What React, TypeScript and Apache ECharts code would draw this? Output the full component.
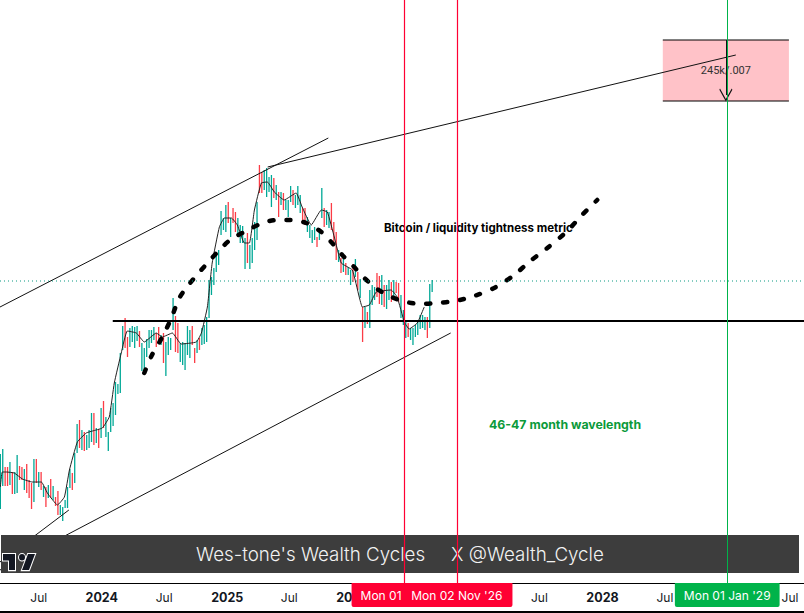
import React, { useEffect, useRef } from 'react';
import * as echarts from 'echarts';

echarts.graphic.registerShape(
  'tvlogo',
  echarts.graphic.extendPath('M14 6H2v6h6v9h6V6Zm14 15h-7l6-15h7l-6 15Zm-7-9a3 3 0 1 0 0-6 3 3 0 0 0 0 6Z', {}) as any,
);

// weekly bars, one per week from firstWeek
const firstWeek = '2023-03-11';
const barHighs = [
  129, 134, 116, 116, 121, 111, 111, 128, 117, 116, 114, 119, 103, 100, 124, 124, 111, 111, 97, 96,
  98, 104, 97, 86, 92, 78, 76, 83, 96, 114, 110, 130, 159, 163, 153, 151, 148, 153, 170, 170,
  155, 154, 175, 182, 166, 151, 175, 180, 201, 199, 230, 257, 265, 246, 255, 257, 256, 257, 252, 240,
  235, 244, 253, 253, 256, 250, 256, 248, 250, 241, 246, 245, 285, 267, 260, 240, 241, 240, 257, 253,
  257, 235, 243, 245, 255, 258, 266, 303, 306, 315, 328, 333, 372, 365, 378, 381, 365, 375, 371, 365,
  358, 357, 345, 350, 338, 345, 361, 381, 418, 411, 413, 415, 406, 408, 405, 398, 391, 391, 390, 383,
  383, 397, 393, 388, 397, 388, 375, 375, 366, 358, 353, 356, 346, 355, 395, 375, 373, 371, 380, 361,
  351, 333, 325, 326, 320, 316, 313, 319, 324, 311, 304, 276, 276, 271, 293, 298, 296, 310, 307, 308,
  298, 298, 303, 301, 303, 301, 300, 288, 273, 262, 260, 255, 255, 258, 261, 268, 268, 266, 266, 299,
  303,
];
const barLows = [
  74, 97, 97, 97, 98, 89, 89, 90, 103, 103, 93, 90, 85, 74, 81, 100, 96, 93, 86, 76,
  85, 85, 83, 77, 68, 68, 62, 75, 75, 95, 93, 100, 130, 135, 133, 132, 133, 135, 141, 138,
  140, 135, 145, 155, 146, 132, 151, 157, 168, 189, 190, 233, 235, 226, 236, 241, 235, 242, 236, 212,
  212, 226, 235, 240, 243, 236, 243, 238, 220, 207, 228, 233, 253, 231, 230, 221, 218, 213, 228, 225,
  238, 220, 230, 233, 238, 239, 241, 265, 288, 298, 311, 318, 348, 353, 351, 360, 346, 360, 351, 346,
  340, 340, 314, 320, 314, 320, 333, 343, 390, 390, 393, 386, 391, 376, 385, 383, 366, 378, 373, 373,
  366, 381, 378, 375, 378, 370, 361, 358, 351, 345, 340, 343, 336, 343, 365, 356, 358, 355, 353, 338,
  323, 321, 310, 311, 308, 308, 298, 301, 306, 293, 285, 241, 255, 259, 255, 278, 283, 286, 279, 278,
  276, 274, 283, 281, 283, 290, 281, 265, 258, 245, 246, 243, 238, 246, 248, 254, 255, 253, 245, 255,
  291,
];
// 1 = teal, 0 = red
const barUp = [
  1, 1, 0, 0, 1, 0, 1, 1, 0, 0, 1, 0, 0, 0, 1, 0, 1, 0, 1, 0,
  1, 0, 1, 0, 0, 1, 1, 1, 1, 1, 0, 1, 1, 0, 1, 0, 1, 1, 1, 0,
  1, 0, 1, 0, 1, 1, 1, 1, 1, 1, 1, 1, 0, 0, 1, 1, 1, 1, 0, 1,
  1, 1, 1, 1, 1, 0, 0, 1, 0, 1, 1, 1, 1, 0, 0, 1, 1, 1, 1, 1,
  0, 0, 1, 0, 1, 1, 1, 1, 1, 1, 1, 1, 1, 1, 1, 0, 1, 0, 0, 1,
  1, 1, 1, 0, 1, 1, 1, 1, 0, 0, 1, 1, 1, 1, 0, 1, 0, 1, 0, 1,
  1, 1, 0, 1, 1, 1, 0, 0, 1, 1, 1, 1, 0, 1, 1, 0, 1, 1, 0, 0,
  0, 1, 0, 1, 0, 1, 1, 0, 1, 0, 1, 0, 1, 0, 1, 1, 1, 0, 0, 1,
  0, 1, 1, 0, 1, 0, 0, 1, 1, 1, 0, 1, 1, 1, 1, 1, 1, 1, 0, 1,
  1,
];

// thin moving average, read at its turning points (position in weeks from firstWeek)
const maWeeks = [
  0, 0.8, 2.5, 5.8, 9.2, 13.3, 17.1, 19.6, 23.8, 26.7, 28.8, 32.1, 35.8, 38.4, 42.5, 45.4, 47.5, 50.4, 52.9,
  56.7, 60, 65, 67.5, 71.7, 75.4, 81.7, 83.8, 86.3, 88.3, 91.3, 93.4, 96.3, 98.8, 101.7, 103.8, 105.9, 108.8,
  111.3, 114.2, 118.3, 123.3, 125.8, 129.6, 133.8, 136.3, 139.2, 142.1, 146.7, 149.6, 150.9, 153.8, 156.7,
  162.9, 165.4, 168.4, 170.4, 173.8, 176.7,
];
const maValues = [
  96, 111, 111, 110, 104, 101, 101, 90, 78, 86, 113, 141, 150, 152, 155, 166, 200, 230, 252,
  250, 241, 250, 246, 250, 239, 241, 250, 276, 320, 356, 365, 365, 358, 340, 340, 373, 400,
  401, 391, 383, 390, 376, 358, 373, 371, 346, 320, 313, 286, 276, 278, 291,
  293, 286, 261, 254, 260, 276,
];

// thick dashed cycle curve
const cycleWeeks = [
  60, 63, 67.5, 71.3, 74.6, 78.8, 83, 87.1, 91.7, 96.3, 102.5, 108.4, 115, 121.3, 127.5, 133.8, 138.3,
  142.5, 147.1, 151.7, 157.1, 163, 169.2, 175.4, 182.1, 189.6, 197.5, 205.8, 214.2, 220.4, 228, 235.9, 242.5, 248.8,
];
const cycleValues = [
  210, 227, 246, 265, 285, 299, 311, 322, 334, 344, 352, 359, 363, 363, 360, 351, 340,
  328, 317, 305, 294, 286, 281, 279, 280, 282, 287, 295, 308, 321, 335, 351, 368, 383,
];

const axisStart = '2023-03-10';
const axisEnd = '2029-08-11';

// hand drawn lines [date, value]
const channelUpper = [[axisStart, 276], ['2025-10-23', 445]];
const resistance = [['2025-04-29', 416], ['2029-01-24', 528]];
const channelLower = [[axisStart, 13], ['2026-10-15', 250]];
const shortTrend = [[axisStart, 21], ['2023-09-27', 73]];
const supportLine = [['2024-02-02', 262], [axisEnd, 262]];
const lastPrice = [[axisStart, 302], [axisEnd, 302]];

const targetBox = { from: '2028-06-25', to: '2029-06-28', top: 543, bottom: 482, label: '245k/.007' };
const arrowDate = '2028-12-26';
const arrowEnd = 488;

// the first label is mostly covered by the second box, only "Mon 01" shows
const cycleDates = [
  { date: '2026-06-01', label: 'Mon 01', color: '#ff0033', line: 1.2, padding: [0, 55, 0, 9] },
  { date: '2026-11-02', label: "Mon 02 Nov '26", color: '#ff0033', line: 1.2, padding: [0, 10, 0, 10] },
  { date: '2028-12-30', label: "Mon 01 Jan '29", color: '#00b34a', line: 1, padding: [0, 9, 0, 9] },
];

// ticks hidden behind the date boxes are left out
const tickDates = [
  '2023-07-01', '2024-01-01', '2024-07-01', '2025-01-01', '2025-07-01', '2026-01-01',
  '2027-07-01', '2028-01-01', '2028-07-01', '2029-07-01',
];

const toTime = (d: string) => new Date(d + 'T00:00:00').getTime();
const weekTime = (w: number) => toTime(firstWeek) + w * 7 * 86400000;

const TEAL = '#00a896';
const RED = '#fb3c46';
const FONT = 'Inter';

const drawLine = (points: any[][], width = 1, type: any = 'solid', color = '#111') => ({
  type: 'line',
  data: points.map((p) => [toTime(p[0]), p[1]]),
  symbol: 'none',
  silent: true,
  z: 3,
  lineStyle: { color, width, type },
});

const Chart: React.FC = () => {
  const chartRef = useRef<HTMLDivElement>(null);

  useEffect(() => {
    if (!chartRef.current) return;
    const myChart = echarts.init(chartRef.current, null, { renderer: 'svg' });

    const option = {
      animation: false,
      backgroundColor: '#fff',
      grid: { left: 0, right: 0, top: 0, bottom: 30 },
      xAxis: {
        // value axis in ms, so the tick labels can be listed by hand
        type: 'value',
        min: toTime(axisStart),
        max: toTime(axisEnd),
        axisLine: { show: true, lineStyle: { color: '#000', width: 1 } },
        axisTick: { show: false },
        splitLine: { show: false },
        axisLabel: {
          customValues: tickDates.map(toTime),
          hideOverlap: false,
          margin: 8,
          formatter: (v: number) => {
            const d = new Date(v);
            return d.getMonth() === 0 ? `{y|${d.getFullYear()}}` : '{m|Jul}';
          },
          rich: {
            y: { fontFamily: FONT, fontWeight: 700, fontSize: 12.5, color: '#131722' },
            m: { fontFamily: FONT, fontSize: 12, color: '#131722' },
          },
        },
      },
      yAxis: { type: 'value', min: 0, max: 583, show: false },
      graphic: [
        { type: 'rect', z: 4, silent: true, shape: { x: 1, y: 535, width: 798, height: 38 }, style: { fill: '#3d3d3d' } },
        { type: 'tvlogo', z: 5, silent: true, x: 1, y: 547.6, scaleX: 1, scaleY: 1.07, style: { fill: '#131722', stroke: '#fff', lineWidth: 2, strokeFirst: true } },
        { type: 'text', z: 5, silent: true, x: 196, y: 554, style: { text: "Wes-tone's Wealth Cycles", fill: '#f2f2f2', font: `300 18.75px ${FONT}`, textVerticalAlign: 'middle' } },
        { type: 'text', z: 5, silent: true, x: 451, y: 554, style: { text: 'X @Wealth_Cycle', fill: '#f2f2f2', font: `300 18.75px ${FONT}`, textVerticalAlign: 'middle' } },
        { type: 'text', z: 5, silent: true, x: 384, y: 228, style: { text: 'Bitcoin / liquidity tightness metric', fill: '#000', font: `700 11.5px ${FONT}`, textVerticalAlign: 'middle' } },
        { type: 'text', z: 5, silent: true, x: 489, y: 424, style: { text: '46-47 month wavelength', fill: '#0b9a3a', font: `700 12.3px ${FONT}`, textVerticalAlign: 'middle' } },
        { type: 'rect', z: 5, silent: true, shape: { x: 0, y: 611, width: 804, height: 2 }, style: { fill: '#000' } },
      ],
      series: [
        {
          type: 'custom',
          silent: true,
          z: 2,
          clip: true,
          encode: { x: 0, y: [1, 2] },
          data: barHighs.map((h, i) => [weekTime(i), h, barLows[i], barUp[i]]),
          renderItem: (_: any, api: any) => {
            const a = api.coord([api.value(0), api.value(1)]);
            const b = api.coord([api.value(0), api.value(2)]);
            return {
              type: 'line',
              shape: { x1: a[0], y1: a[1], x2: b[0], y2: b[1] },
              style: { stroke: api.value(3) ? TEAL : RED, lineWidth: 1.3 },
            };
          },
        },
        {
          type: 'line',
          data: maWeeks.map((w, i) => [weekTime(w), maValues[i]]),
          symbol: 'none',
          smooth: 0.12,
          silent: true,
          z: 3,
          lineStyle: { color: '#222', width: 1 },
        },
        {
          type: 'line',
          data: cycleWeeks.map((w, i) => [weekTime(w), cycleValues[i]]),
          symbol: 'none',
          smooth: 0.3,
          silent: true,
          z: 3,
          lineStyle: { color: '#000', width: 4.5, cap: 'round', type: [4, 13] },
        },
        drawLine(channelUpper),
        drawLine(resistance),
        drawLine(channelLower),
        drawLine(shortTrend),
        drawLine(supportLine, 2, 'solid', '#000'),
        drawLine(lastPrice, 1, [1, 3], '#089981'),
        {
          // target box, drawn under the trend lines
          type: 'line',
          data: [],
          silent: true,
          z: 1,
          markArea: {
            silent: true,
            itemStyle: { color: '#ffc2c8' },
            label: { show: true, position: 'inside', color: '#333', fontFamily: 'Roboto', fontSize: 11 },
            data: [[
              { name: targetBox.label, coord: [toTime(targetBox.from), targetBox.top] },
              { coord: [toTime(targetBox.to), targetBox.bottom] },
            ]],
          },
        },
        drawLine([[targetBox.from, targetBox.top], [targetBox.to, targetBox.top]], 1, 'solid', '#000'),
        drawLine([[targetBox.from, targetBox.bottom], [targetBox.to, targetBox.bottom]], 1, 'solid', '#000'),
        {
          type: 'line',
          data: [],
          silent: true,
          z: 4,
          markLine: {
            silent: true,
            symbol: ['none', 'path://M0,0 L10,9 L9,10 L0,2 L-9,10 L-10,9 Z'],
            symbolSize: 13,
            lineStyle: { color: '#111', width: 1, type: 'solid' },
            label: { show: false },
            data: [[
              { coord: [toTime(arrowDate), targetBox.top] },
              { coord: [toTime(arrowDate), arrowEnd] },
            ]],
          },
        },
        ...cycleDates.map((c, i) => ({
          type: 'line',
          data: [],
          silent: true,
          z: 6 + i,
          markLine: {
            silent: true,
            symbol: 'none',
            lineStyle: { color: c.color, width: c.line, type: 'solid', opacity: 1 },
            label: {
              show: true,
              position: 'start',
              distance: 0,
              formatter: c.label,
              color: '#fff',
              fontFamily: FONT,
              fontSize: 12,
              backgroundColor: c.color,
              padding: c.padding,
              height: 24,
              lineHeight: 24,
              borderRadius: [0, 0, 2, 2],
            },
            data: [{ xAxis: toTime(c.date) }],
          },
        })),
      ],
    };

    myChart.setOption(option as any);

    return () => {
      myChart.dispose();
    };
  }, []);

  return <div ref={chartRef} style={{ position: 'fixed', left: 0, top: 0, width: 804, height: 613 }}></div>;
};

export default Chart;
